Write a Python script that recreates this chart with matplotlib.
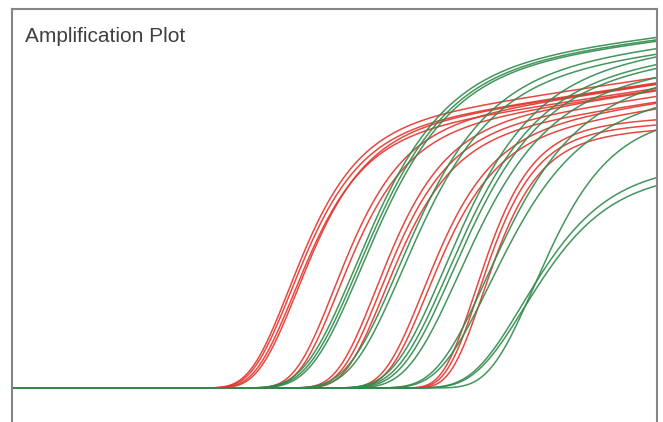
import numpy as np
import matplotlib
matplotlib.use('Agg')
import matplotlib.pyplot as plt

# per-curve values
# ct = inflection cycle, plateau = delta Rn level, width = steepness (cycles),
# drift = slow rise of the plateau per cycle
colors = ['red'] * 14 + ['green'] * 14
ct = [17.63, 17.75, 17.93, 18.11,
      20.35, 20.59,
      22.89, 23.13, 23.37,
      25.73, 25.97,
      28.99, 29.17, 29.42,
      21.62, 21.80, 21.98,
      24.22, 24.46,
      27.00, 27.24, 27.48, 27.84,
      29.60, 29.75,
      32.55, 31.83, 31.95]
plateau = [2.55, 2.50, 2.45, 2.50,
           2.55, 2.50,
           2.55, 2.50, 2.45,
           2.50, 2.45,
           2.60, 2.55, 2.50,
           3.15, 3.13, 3.12,
           3.10, 3.05,
           3.10, 3.03, 3.00, 2.92,
           2.90, 2.70,
           2.75, 2.25, 2.17]
width = [2.3] * 11 + [1.93] * 3 + [3.02] * 11 + [2.7, 3.02, 3.02]
drift = [0.0248] * 11 + [0.0083] * 3 + [0.0198] * 11 + [0.0, 0.0, 0.0]

cycles = np.linspace(1, 40, 500)

line_colors = {'red': '#e2352d', 'green': '#2f8a4c'}

fig = plt.figure(figsize=(6.63, 4.22), dpi=100)
ax = fig.add_axes([12 / 663, 0, 645 / 663, 413 / 422])

for c, x0, a, s, d in zip(colors, ct, plateau, width, drift):
    g = np.exp(-np.exp(-(cycles - x0) / s))
    y = g * (a + d * (cycles - x0))
    ax.plot(cycles, y, color=line_colors[c], lw=1.1, alpha=0.9)

ax.set_xlim(1, 40)
ax.set_ylim(-0.34, 3.79)
ax.set_xticks([])
ax.set_yticks([])
ax.spines['bottom'].set_visible(False)
for side in ['top', 'left', 'right']:
    ax.spines[side].set_color('#858585')
    ax.spines[side].set_linewidth(1.5)

fig.text(25 / 663, 1 - 42 / 422, 'Amplification Plot', fontsize=15,
         family='Liberation Sans', color='#404040', va='baseline', ha='left')

fig.savefig('out.png', dpi=100)
